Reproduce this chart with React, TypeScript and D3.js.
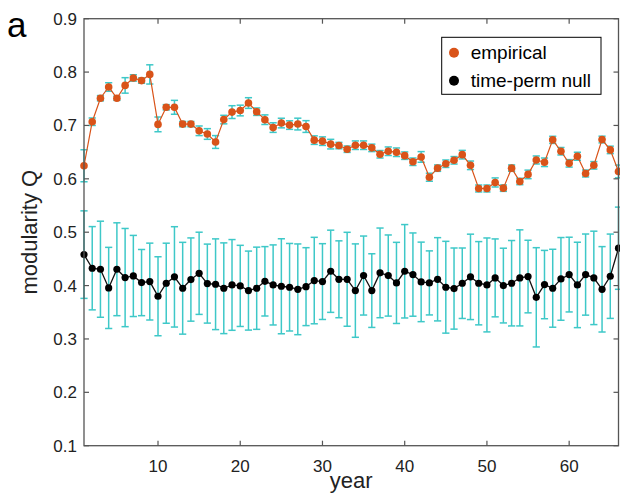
import React from "react";
import * as d3 from "d3";

const years = d3.range(1, 67);
const empirical = [0.6245, 0.707, 0.751, 0.772, 0.751, 0.775, 0.789, 0.784, 0.7956, 0.702, 0.734, 0.734, 0.7025, 0.7025, 0.69, 0.684, 0.669, 0.711, 0.725, 0.728, 0.742, 0.7258, 0.7108, 0.696, 0.7045, 0.7007, 0.7026, 0.698, 0.6725, 0.6706, 0.665, 0.6623, 0.6555, 0.663, 0.663, 0.658, 0.646, 0.6517, 0.6498, 0.6434, 0.632, 0.641, 0.603, 0.62, 0.6283, 0.6347, 0.6453, 0.6253, 0.5819, 0.5819, 0.5932, 0.5825, 0.62, 0.595, 0.6083, 0.6353, 0.631, 0.673, 0.6517, 0.629, 0.6423, 0.61, 0.6253, 0.6736, 0.6542, 0.6138];
const empiricalErr = [0.03, 0.007, 0.005, 0.008, 0.004, 0.0145, 0.006, 0.005, 0.018, 0.0138, 0.005, 0.013, 0.005, 0.005, 0.009, 0.01, 0.012, 0.008, 0.012, 0.01, 0.01, 0.007, 0.009, 0.009, 0.009, 0.008, 0.011, 0.011, 0.008, 0.008, 0.009, 0.006, 0.006, 0.008, 0.008, 0.007, 0.007, 0.008, 0.008, 0.007, 0.007, 0.01, 0.0075, 0.006, 0.007, 0.007, 0.008, 0.008, 0.0065, 0.0065, 0.0085, 0.006, 0.006, 0.006, 0.008, 0.0075, 0.008, 0.0067, 0.007, 0.007, 0.0075, 0.0065, 0.007, 0.0063, 0.007, 0.012];
const nullModel = [0.458, 0.4325, 0.4306, 0.3956, 0.4306, 0.415, 0.418, 0.4056, 0.4075, 0.38, 0.4044, 0.4163, 0.395, 0.4113, 0.423, 0.4037, 0.4025, 0.395, 0.4012, 0.3994, 0.3906, 0.395, 0.408, 0.4012, 0.3987, 0.3969, 0.393, 0.398, 0.4094, 0.4075, 0.4268, 0.4118, 0.4118, 0.3906, 0.4188, 0.3906, 0.4238, 0.4188, 0.405, 0.4268, 0.4206, 0.4069, 0.405, 0.4118, 0.3969, 0.3944, 0.4044, 0.4163, 0.4044, 0.4012, 0.4144, 0.4, 0.4044, 0.4144, 0.4169, 0.378, 0.4019, 0.395, 0.4125, 0.4206, 0.4012, 0.4206, 0.4144, 0.393, 0.4175, 0.47];
const nullErr = [0.082, 0.078, 0.09, 0.076, 0.087, 0.092, 0.076, 0.062, 0.072, 0.074, 0.075, 0.094, 0.086, 0.078, 0.077, 0.074, 0.085, 0.085, 0.085, 0.076, 0.074, 0.077, 0.065, 0.075, 0.089, 0.082, 0.085, 0.073, 0.081, 0.071, 0.077, 0.072, 0.088, 0.0875, 0.074, 0.069, 0.084, 0.076, 0.076, 0.0875, 0.078, 0.0745, 0.06, 0.078, 0.086, 0.076, 0.066, 0.08, 0.078, 0.088, 0.073, 0.07, 0.08, 0.09, 0.068, 0.093, 0.064, 0.073, 0.0775, 0.07, 0.08, 0.076, 0.0875, 0.08, 0.079, 0.077];
const xTicks = [10, 20, 30, 40, 50, 60];
const yTicks = [0.1, 0.2, 0.3, 0.4, 0.5, 0.6, 0.7, 0.8, 0.9];
const legendLabels = ["empirical", "time-perm null"];

const W = 620, H = 497;
const L = 84, R = 618.5, T = 18.7, B = 445.7;
const ORANGE = "#d95319";
const CYAN = "#3ec8c8";
const AXIS = "#555";
const FONT = "'Liberation Sans', Arial, Helvetica, sans-serif";

export default function App() {
  const x = d3.scaleLinear().domain([1, 66]).range([L, R]);
  const y = d3.scaleLinear().domain([0.1, 0.9]).range([B, T]);
  const line = d3.line<number>().x((_, i) => x(years[i])).y((d) => y(d));
  const cap = 3.6;
  const tick = 5;

  const errBars = (vals: number[], errs: number[], key: string) =>
    vals.map((v, i) => {
      const xx = x(years[i]);
      const y1 = y(v + errs[i]);
      const y0 = y(v - errs[i]);
      return (
        <g key={key + i} stroke={CYAN} strokeWidth={1.5} fill="none">
          <line x1={xx} x2={xx} y1={y1} y2={y0} />
          <line x1={xx - cap} x2={xx + cap} y1={y1} y2={y1} />
          <line x1={xx - cap} x2={xx + cap} y1={y0} y2={y0} />
        </g>
      );
    });

  return (
    <svg width={W} height={H} style={{ position: "absolute", left: 0, top: 0, background: "#fff" }} fontFamily={FONT}>
      <rect width={W} height={H} fill="#fff" />
      {errBars(nullModel, nullErr, "n")}
      {errBars(empirical, empiricalErr, "e")}
      <path d={line(nullModel) || ""} fill="none" stroke="#111" strokeWidth={1.3} />
      <path d={line(empirical) || ""} fill="none" stroke={ORANGE} strokeWidth={1.2} />
      {nullModel.map((v, i) => (
        <circle key={"nc" + i} cx={x(years[i])} cy={y(v)} r={3.6} fill="#000" />
      ))}
      {empirical.map((v, i) => (
        <circle key={"ec" + i} cx={x(years[i])} cy={y(v)} r={3.8} fill={ORANGE} />
      ))}
      <rect x={L} y={T} width={R - L} height={B - T} fill="none" stroke={AXIS} strokeWidth={1.3} />
      {xTicks.map((t) => (
        <g key={"xt" + t}>
          <line x1={x(t)} x2={x(t)} y1={B} y2={B - tick} stroke={AXIS} strokeWidth={1.2} />
          <line x1={x(t)} x2={x(t)} y1={T} y2={T + tick} stroke={AXIS} strokeWidth={1.2} />
          <text x={x(t)} y={B + 26} textAnchor="middle" fontSize={17} fill="#222">{t}</text>
        </g>
      ))}
      {yTicks.map((t) => (
        <g key={"yt" + t}>
          <line x1={L} x2={L + tick} y1={y(t)} y2={y(t)} stroke={AXIS} strokeWidth={1.2} />
          <line x1={R} x2={R - tick} y1={y(t)} y2={y(t)} stroke={AXIS} strokeWidth={1.2} />
          <text x={L - 7} y={y(t)} dy="0.35em" textAnchor="end" fontSize={17} fill="#222">{t.toFixed(1)}</text>
        </g>
      ))}
      <text x={(L + R) / 2} y={488} textAnchor="middle" fontSize={22} fill="#222">year</text>
      <text transform={`translate(37, ${(T + B) / 2}) rotate(-90)`} textAnchor="middle" fontSize={22} fill="#222">modularity Q</text>
      <text x={7} y={37} fontSize={35} fill="#000">a</text>
      <rect x={441.7} y={37.3} width={159.3} height={57} fill="#fff" stroke="#000" strokeWidth={1} />
      <circle cx={454} cy={52.7} r={5} fill={ORANGE} />
      <circle cx={454} cy={80.7} r={5} fill="#000" />
      <text x={470.7} y={52.7} dy="0.35em" fontSize={19} fill="#000">{legendLabels[0]}</text>
      <text x={470.7} y={80.7} dy="0.35em" fontSize={19} fill="#000">{legendLabels[1]}</text>
    </svg>
  );
}
